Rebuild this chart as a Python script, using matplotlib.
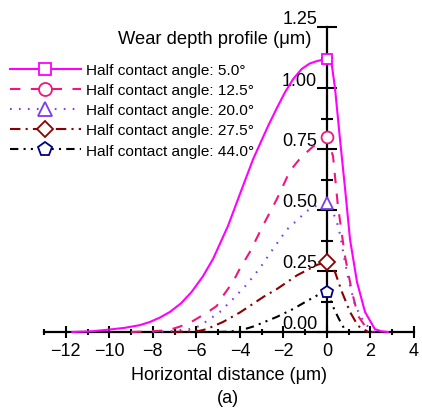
import matplotlib
matplotlib.use('Agg')
import matplotlib.pyplot as plt
from matplotlib.transforms import ScaledTranslation

plt.rcParams['font.family'] = ['Liberation Sans', 'DejaVu Sans']

# ---- data ----
series_labels = ['Half contact angle: 5.0°', 'Half contact angle: 12.5°',
                 'Half contact angle: 20.0°', 'Half contact angle: 27.5°',
                 'Half contact angle: 44.0°']

x_5 = [-11.7, -10.8, -10.1, -9.3, -8.6, -8.14, -7.7, -7.22, -6.7, -6.22, -5.7, -5.23,
       -4.54, -3.97, -3.39, -2.70, -2.3, -1.93, -1.55, -1.16, -0.8, -0.47, 0.0, 0.2,
       0.37, 0.6, 0.83, 1.06, 1.38, 1.75, 2.2, 2.5, 2.8]
y_5 = [0.0, 0.003, 0.009, 0.017, 0.028, 0.041, 0.058, 0.082, 0.118, 0.164, 0.228, 0.30,
       0.436, 0.572, 0.709, 0.845, 0.918, 0.982, 1.037, 1.078, 1.10, 1.11, 1.12, 1.11,
       1.0, 0.79, 0.59, 0.38, 0.205, 0.082, 0.012, 0.003, 0.0]

x_12 = [-9.0, -8.1, -7.5, -7.2, -6.76, -6.16, -5.5, -5.06, -4.8, -4.32, -4.0, -3.54,
        -2.94, -2.3, -1.7, -1.2, -0.64, 0.0, 0.28, 0.5, 0.83, 1.15, 1.43, 1.9, 2.1]
y_12 = [0.0, 0.003, 0.006, 0.01, 0.022, 0.045, 0.08, 0.107, 0.145, 0.205, 0.26, 0.328,
        0.436, 0.545, 0.66, 0.715, 0.76, 0.80, 0.72, 0.52, 0.31, 0.164, 0.066, 0.005, 0.0]

x_20 = [-8.0, -7.1, -6.3, -5.84, -5.52, -4.92, -4.32, -3.68, -3.08, -2.48, -1.84, -1.47,
        -0.92, -0.45, 0.0, 0.28, 0.46, 0.6, 0.8, 1.0, 1.3, 1.75, 2.2]
y_20 = [0.0, 0.004, 0.012, 0.025, 0.045, 0.082, 0.135, 0.195, 0.262, 0.34, 0.42, 0.45,
        0.496, 0.52, 0.53, 0.49, 0.45, 0.40, 0.30, 0.21, 0.107, 0.033, 0.0]

x_27 = [-7.1, -6.3, -5.84, -5.52, -4.78, -4.0, -3.54, -2.9, -2.3, -1.38, -0.46, 0.0,
        0.37, 0.69, 1.06, 1.43, 1.9]
y_27 = [0.0, 0.002, 0.005, 0.012, 0.041, 0.08, 0.107, 0.145, 0.176, 0.232, 0.275, 0.287,
        0.246, 0.164, 0.082, 0.025, 0.0]

x_44 = [-5.0, -4.46, -4.0, -3.4, -2.76, -2.3, -1.56, -0.9, -0.41, 0.0, 0.37, 0.6, 0.83, 0.95]
y_44 = [0.0, 0.002, 0.006, 0.022, 0.045, 0.062, 0.094, 0.128, 0.152, 0.162, 0.086, 0.045,
        0.008, 0.0]

x_ticks = [-12, -10, -8, -6, -4, -2, 0, 2, 4]
x_minor = [-13, -11, -9, -7, -5, -3, -1, 1, 3]
y_ticks = [0.0, 0.25, 0.5, 0.75, 1.0, 1.25]
y_tick_labels = ['0.00', '0.25', '0.50', '0.75', '1.00', '1.25']
y_minor = [0.125, 0.375, 0.625, 0.875, 1.125]

xs = [x_5, x_12, x_20, x_27, x_44]
ys = [y_5, y_12, y_20, y_27, y_44]

colors = ['#FF00FF', '#F0167C', '#7A3CF0', '#8B0000', '#000000']
mcolors = ['#FF00FF', '#F0167C', '#7A3CF0', '#8B0000', '#000080']
markers = ['s', 'o', '^', 'D', 'p']
msizes = [7.5, 8.5, 9.0, 7.8, 9.0]
dashes = [None, (5, 5), (0.8, 3.5), (5, 2.5, 1, 2.5), (4, 2.5, 1, 2.5, 1, 2.5)]

# ---- figure ----
W, H = 422, 414
fig = plt.figure(figsize=(W / 100, H / 100), dpi=100)
ax = fig.add_axes([44 / W, 81 / H, 370 / W, 305 / H])
ax.set_xlim(-13, 4)
ax.set_ylim(0, 1.25)

handles = []
for x, y, c, mc, m, ms, d, lab in zip(xs, ys, colors, mcolors, markers, msizes, dashes, series_labels):
    idx = x.index(0.0)
    ln, = ax.plot(x, y, color=c, lw=1.5, marker=m, ms=ms, mfc='white', mec=mc, mew=1.3,
                  markevery=[idx], zorder=3, label=lab, clip_on=False)
    if d is not None:
        ln.set_dashes(d)
    handles.append(ln)

for s in ['top', 'right']:
    ax.spines[s].set_visible(False)
ax.spines['left'].set_position(('data', 0))
ax.spines['left'].set_linewidth(1.6)
ax.spines['bottom'].set_linewidth(1.6)

ax.set_xticks(x_ticks)
ax.set_xticklabels([f'{v:d}'.replace('-', '\u2212') for v in x_ticks])
ax.set_xticks(x_minor, minor=True)
ax.set_yticks(y_ticks)
ax.set_yticklabels(y_tick_labels)
ax.set_yticks(y_minor, minor=True)

ax.tick_params(axis='x', which='major', direction='inout', length=8, width=1.5, labelsize=13, pad=3.5)
ax.tick_params(axis='x', which='minor', direction='inout', length=4, width=1.5)
ax.tick_params(axis='y', which='major', direction='inout', length=14, width=1.5, labelsize=13, pad=0)
ax.tick_params(axis='y', which='minor', direction='inout', length=8, width=1.5)

offset = ScaledTranslation(0, 0.10, fig.dpi_scale_trans)
for lab in ax.get_yticklabels():
    lab.set_transform(lab.get_transform() + offset)

fig.text(312 / W, 1 - 40 / H, 'Wear depth profile (μm)', ha='right', va='center', fontsize=13.2)
fig.text(229 / W, 1 - 376 / H, 'Horizontal distance (μm)', ha='center', va='center', fontsize=13)
fig.text(228 / W, 1 - 399 / H, '(a)', ha='center', va='center', fontsize=13)

leg = ax.legend(handles=handles, loc='upper left', bbox_to_anchor=(10 / W, 1 - 64 / H),
                bbox_transform=fig.transFigure, frameon=False, fontsize=11.1,
                handlelength=4.6, handletextpad=0.35, labelspacing=0.4,
                borderpad=0, borderaxespad=0, markerscale=1.1)

fig.savefig('out.png', dpi=100)
